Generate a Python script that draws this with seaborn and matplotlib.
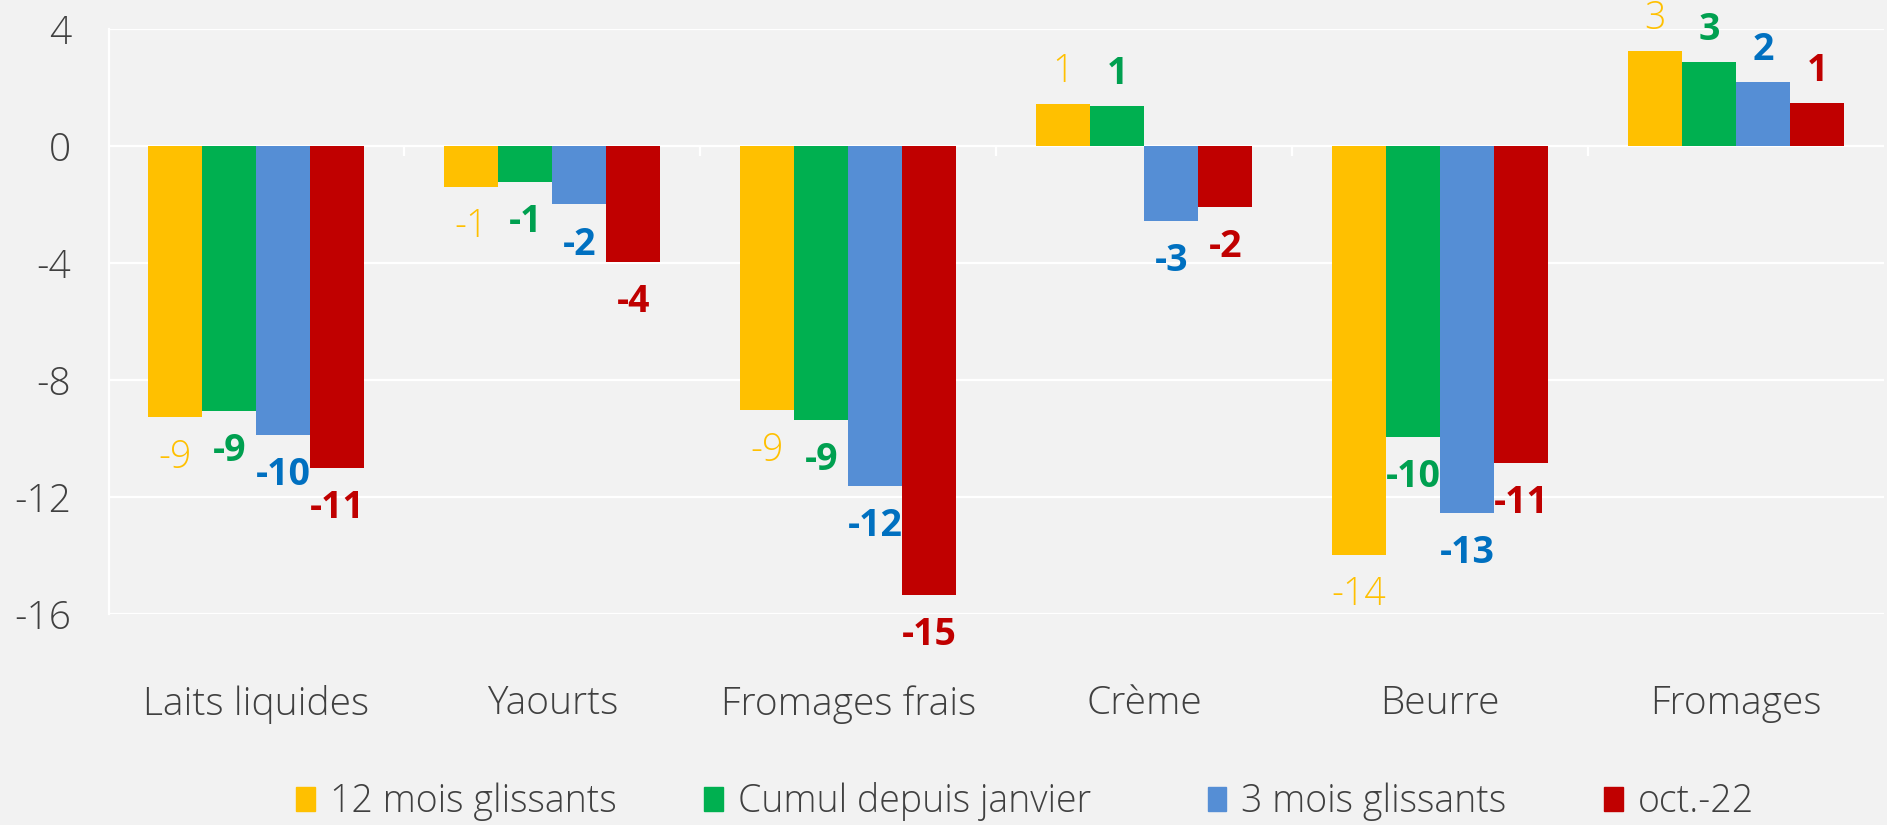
import numpy as np
import pandas as pd
import matplotlib
matplotlib.use("Agg")
import matplotlib.pyplot as plt
import seaborn as sns

categories = ["Laits liquides", "Yaourts", "Fromages frais", "Crème", "Beurre", "Fromages"]
series = ["12 mois glissants", "Cumul depuis janvier", "3 mois glissants", "oct.-22"]

v_12mois = [-9.27, -1.40, -9.03, 1.43, -13.98, 3.25]
v_cumul = [-9.06, -1.23, -9.37, 1.37, -9.95, 2.87]
v_3mois = [-9.88, -2.00, -11.62, -2.57, -12.55, 2.19]
v_oct22 = [-11.0, -3.97, -15.35, -2.09, -10.84, 1.47]

bar_colors = ["#FFC000", "#00B050", "#558ED5", "#C00000"]
label_colors = ["#FFC000", "#00A050", "#0070C0", "#C00000"]
label_weights = ["light", "bold", "bold", "bold"]

# legend entries left edge (figure fraction)
legend_x = [0.157, 0.373, 0.640, 0.850]

df = pd.DataFrame({
    "cat": categories * 4,
    "serie": np.repeat(series, len(categories)),
    "val": v_12mois + v_cumul + v_3mois + v_oct22,
})

sns.set_style("white")
plt.rcParams["font.family"] = ["Open Sans", "DejaVu Sans"]
plt.rcParams["axes.unicode_minus"] = False
bg = "#F2F2F2"
txt = "#404040"

fig = plt.figure(figsize=(18.87, 8.25), dpi=100, facecolor=bg)
ax = fig.add_axes([0.0575, 0.2558, 0.9409, 0.7091])
ax.set_facecolor(bg)

sns.barplot(data=df, x="cat", y="val", hue="serie", order=categories,
            hue_order=series, palette=bar_colors, width=0.73, gap=0,
            saturation=1, linewidth=0, ax=ax, legend=True, zorder=3)

ax.set_ylim(-16, 4)
ax.set_xlim(-0.5, len(categories) - 0.5)
ax.set_yticks([4, 0, -4, -8, -12, -16])
ax.grid(axis="y", color="white", linewidth=1.6, zorder=0)
ax.set_axisbelow(True)
for s in ["top", "right", "bottom"]:
    ax.spines[s].set_visible(False)
ax.spines["left"].set_color("white")
ax.spines["left"].set_linewidth(1.6)

# small tick marks between categories on the zero line
ax.vlines(np.arange(len(categories) - 1) + 0.5, -0.35, 0, color="white", lw=1.6, zorder=1)

ax.tick_params(axis="y", length=0, pad=27, labelsize=28, labelcolor=txt)
ax.tick_params(axis="x", length=0, pad=51, labelsize=28, labelcolor=txt)
for lab in ax.get_xticklabels() + ax.get_yticklabels():
    lab.set_fontweight("light")
ax.set_xlabel("")
ax.set_ylabel("")

# data labels
for i, cont in enumerate(ax.containers):
    for bar in cont:
        h = bar.get_height()
        x = bar.get_x() + bar.get_width() / 2
        off = 23 if h > 0 else -29
        ax.annotate(f"{h:.0f}", (x, h), xytext=(0, off), textcoords="offset points",
                    ha="center", va="center", fontsize=27, color=label_colors[i],
                    fontweight=label_weights[i], zorder=5)

ax.legend_.remove()
for c, name, lx in zip(bar_colors, series, legend_x):
    h = plt.Rectangle((0, 0), 1, 1, color=c)
    leg = fig.legend([h], [name], loc="center left", bbox_to_anchor=(lx, 0.028),
                     frameon=False, fontsize=27, handlelength=0.5, handleheight=0.6,
                     handletextpad=0.4, borderpad=0, borderaxespad=0, labelcolor=txt)
    for t in leg.get_texts():
        t.set_fontweight("light")

fig.savefig("out.png", dpi=100, facecolor=bg)
